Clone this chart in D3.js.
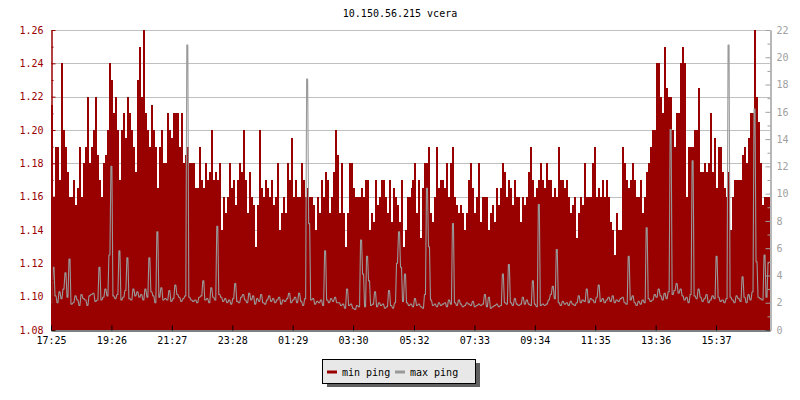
<!DOCTYPE html>
<html><head><meta charset="utf-8">
<script src="https://cdn.jsdelivr.net/npm/d3@7"></script>
<style>body{margin:0;background:#fff}svg{display:block}text{font-family:"DejaVu Sans Mono",monospace;font-size:10px}</style>
</head><body><svg id="c" width="800" height="400"></svg>
<script>
const chartTitle = "10.150.56.215 vcera";
const seriesNames = ["min ping", "max ping"];
const startLabel = "17:25";
const stepMinutes = 4;
const minPing = [
1.215,1.16,1.19,1.19,1.17,1.24,1.20,1.19,1.175,1.16,
1.16,1.17,1.155,1.165,1.19,1.16,1.18,1.19,1.22,1.18,
1.19,1.20,1.22,1.185,1.17,1.16,1.18,1.185,1.20,1.24,
1.23,1.21,1.22,1.20,1.17,1.20,1.21,1.195,1.22,1.21,
1.20,1.19,1.175,1.23,1.25,1.22,1.26,1.21,1.20,1.19,
1.215,1.20,1.19,1.165,1.19,1.20,1.18,1.18,1.21,1.20,
1.195,1.21,1.21,1.21,1.19,1.21,1.18,1.185,1.19,1.18,
1.18,1.18,
1.165,1.165,1.19,1.17,1.165,1.18,1.17,1.175,1.20,1.17,
1.175,1.17,1.18,1.14,1.16,1.15,1.16,1.18,1.165,1.17,
1.155,1.17,1.18,1.175,1.20,1.17,1.15,1.175,1.16,1.155,
1.13,1.155,1.20,1.165,1.16,1.17,1.165,1.16,1.17,1.155,
1.16,1.18,1.14,1.15,1.16,1.15,1.18,1.17,1.195,1.16,
1.17,1.16,1.16,1.18,1.17,1.16,1.165,1.16,1.16,1.155,
1.14,1.16,1.15,1.17,1.16,1.175,1.17,1.15,1.16,1.175,
1.20,1.185,
1.15,1.18,1.15,1.13,1.15,1.18,1.18,1.165,1.16,1.16,
1.16,1.165,1.16,1.17,1.17,1.14,1.15,1.145,1.17,1.155,
1.16,1.17,1.17,1.16,1.15,1.17,1.145,1.165,1.16,1.155,
1.145,1.17,1.13,1.14,1.16,1.16,1.165,1.17,1.18,1.15,
1.17,1.135,1.165,1.18,1.18,1.19,1.15,1.145,1.16,1.19,
1.165,1.17,1.17,1.165,1.18,1.16,1.18,1.19,1.16,1.155,
1.15,1.155,1.15,1.14,1.15,1.17,1.18,1.165,1.15,1.16,
1.18,1.145,
1.16,1.16,1.16,1.14,1.15,1.155,1.145,1.165,1.155,1.165,
1.18,1.175,1.16,1.17,1.165,1.155,1.17,1.16,1.16,1.145,
1.16,1.155,1.16,1.175,1.19,1.17,1.16,1.165,1.17,1.18,
1.17,1.165,1.18,1.17,1.17,1.16,1.165,1.16,1.19,1.17,
1.17,1.165,1.17,1.16,1.15,1.155,1.16,1.135,1.15,1.16,
1.155,1.18,1.16,1.16,1.16,1.18,1.19,1.16,1.165,1.16,
1.17,1.16,1.17,1.16,1.145,1.14,1.125,1.15,1.14,1.14,
1.19,1.18,
1.17,1.165,1.17,1.18,1.17,1.16,1.16,1.17,1.15,1.16,
1.175,1.18,1.19,1.20,1.20,1.24,1.24,1.22,1.21,1.25,
1.225,1.22,1.22,1.20,1.19,1.21,1.21,1.24,1.25,1.24,
1.16,1.19,1.19,1.19,1.20,1.20,1.225,1.175,1.175,1.18,
1.175,1.18,1.21,1.175,1.195,1.165,1.19,1.19,1.175,1.165,
1.16,1.175,1.14,1.16,1.17,1.17,1.17,1.17,1.185,1.19,
1.18,1.195,1.21,1.21,1.26,1.22,1.205,1.18,1.155,1.16,
1.16,1.16
];
const maxPing = [
2.0,4.6,2.5,2.0,2.8,2.3,3.0,4.2,2.4,5.2,
1.9,2.0,2.5,2.2,1.8,2.6,2.3,2.2,1.8,2.5,
2.6,2.7,2.1,2.2,4.6,2.2,2.4,3.0,2.5,5.5,
12.0,2.5,2.3,2.6,5.8,2.2,2.4,2.9,5.3,2.3,
2.2,3.0,2.5,2.8,2.4,2.6,2.2,3.0,2.4,5.3,
2.8,2.5,2.0,7.2,2.4,3.1,2.2,2.3,2.2,2.9,
2.1,2.3,3.3,2.6,2.4,2.1,2.3,2.5,20.9,2.4,
2.2,2.1,
2.2,2.0,2.4,2.5,3.6,2.2,2.3,2.0,3.1,2.4,
2.2,7.6,2.6,2.4,2.1,2.3,2.0,2.2,1.9,2.3,
3.4,2.1,2.0,2.4,2.6,2.2,2.0,2.7,2.2,2.5,
1.9,2.3,2.1,2.6,2.0,1.9,2.2,2.5,2.1,2.3,
2.0,2.2,2.4,1.9,2.2,2.1,2.3,2.7,2.0,2.2,
2.4,2.0,2.7,2.1,1.8,2.3,18.4,7.8,2.2,2.3,
1.9,2.1,2.0,2.2,1.8,5.8,2.2,2.0,2.3,2.1,
2.4,2.0,
2.0,1.8,1.9,1.6,3.0,1.8,1.9,1.6,1.5,1.8,
1.7,6.6,4.1,1.7,5.4,3.6,1.8,1.9,2.8,1.7,
2.0,1.8,1.9,1.6,1.7,2.9,1.8,1.6,2.0,4.9,
7.2,4.6,2.1,4.1,2.0,1.8,1.9,1.7,2.3,1.8,
1.9,1.7,1.6,2.6,10.4,6.1,2.2,1.8,1.9,1.7,
2.0,1.8,1.9,2.0,1.7,2.2,1.9,7.8,2.0,1.8,
2.2,1.9,1.7,1.8,2.0,1.9,1.8,2.1,1.7,1.8,
1.9,1.8,
1.9,2.6,1.7,2.4,1.6,1.7,1.8,1.9,1.7,1.8,
4.1,2.0,1.9,4.8,2.0,1.8,2.3,1.9,1.8,1.9,
2.4,1.9,2.2,1.9,1.8,3.6,1.9,1.7,9.2,1.8,
1.9,1.8,1.9,2.2,2.6,3.2,2.3,5.9,2.0,1.8,
2.1,1.9,2.0,1.8,2.1,1.9,1.8,2.0,2.5,2.0,
2.2,2.1,3.0,2.0,2.3,2.2,2.0,2.4,3.3,2.1,
2.3,2.0,2.2,2.4,2.1,2.5,2.0,2.2,2.1,2.3,
2.4,2.0,
1.9,5.4,2.2,2.5,2.0,1.8,2.1,1.9,2.2,2.0,
7.5,2.3,2.1,2.2,2.6,2.4,3.0,2.5,2.2,2.7,
2.3,2.8,14.7,2.6,2.9,3.4,2.7,3.0,2.5,2.2,
2.4,2.0,2.6,12.4,2.5,2.3,3.0,2.4,2.1,2.3,
2.6,2.0,2.2,2.5,2.3,5.4,2.4,2.1,2.2,2.0,
2.3,20.9,2.4,2.2,2.0,2.5,2.3,2.1,3.9,2.4,
2.0,2.6,2.2,2.8,16.2,5.0,2.4,2.3,2.2,5.5,
2.4,4.9
];
const leftTicks = [1.08,1.10,1.12,1.14,1.16,1.18,1.20,1.22,1.24,1.26];
const leftMinorTicks = [1.09,1.11,1.13,1.15,1.17,1.19,1.21,1.23,1.25];
const rightTicks = [0,2,4,6,8,10,12,14,16,18,20,22];
const rightMinorTicks = [1,3,5,7,9,11,13,15,17,19,21];
const timeLabels = ["17:25","19:26","21:27","23:28","01:29","03:30","05:32","07:33","09:34","11:35","13:36","15:37"];

const svg = d3.select("#c");
const X0 = 51, X1 = 770, Y0 = 330, Y1 = 30;
const RED = "#990000", GRAY = "#999999";

function hm(s){ const [h,m] = s.split(":").map(Number); return h*60+m; }
const startMin = hm(startLabel);
const t0 = new Date(2000,0,1,0,0);
const tAt = mins => new Date(t0.getTime() + mins*60000);
const tStart = tAt(startMin), tEnd = tAt(startMin + 1440);

const x = d3.scaleTime().domain([tStart, tEnd]).range([X0, X1]);
const yL = d3.scaleLinear().domain([leftTicks[0], leftTicks[leftTicks.length-1]]).range([Y0, Y1]);
const yR = d3.scaleLinear().domain([rightTicks[0], rightTicks[rightTicks.length-1]]).range([Y0, Y1]);

const minData = minPing.map((v,i)=>({t:tAt(startMin+i*stepMinutes), v}));
minData.push({t:tEnd, v:minPing[minPing.length-1]});
// each max sample is held for half of its interval, then joined to the next sample
const maxData = [];
maxPing.forEach((v,i)=>{
  maxData.push({t:tAt(startMin+i*stepMinutes), v});
  maxData.push({t:tAt(startMin+i*stepMinutes+stepMinutes/2), v});
});

// title
svg.append("text").attr("x",400).attr("y",17).attr("text-anchor","middle").attr("fill","#000").text(chartTitle);

// gridlines
svg.append("g").selectAll("line").data(leftTicks.slice(1)).join("line")
  .attr("x1",X0).attr("x2",X1)
  .attr("y1",d=>Math.round(yL(d))+0.5).attr("y2",d=>Math.round(yL(d))+0.5)
  .attr("stroke","#c0c0c0").attr("stroke-width",1);

// min ping area
svg.append("path").datum(minData)
  .attr("d", d3.area().curve(d3.curveStepAfter).x(d=>x(d.t)).y0(yL(leftTicks[0])).y1(d=>yL(d.v)))
  .attr("fill",RED).attr("shape-rendering","crispEdges");

// max ping line
svg.append("path").datum(maxData)
  .attr("d", d3.line().x(d=>x(d.t)).y(d=>yR(d.v)))
  .attr("fill","none").attr("stroke",GRAY).attr("stroke-width",1.1).attr("stroke-linejoin","round");

// left axis
const gL = svg.append("g").attr("transform",`translate(${X0+0.5},0)`);
gL.call(d3.axisLeft(yL).tickValues(leftTicks).tickFormat(d3.format(".2f")).tickSize(-4).tickSizeOuter(0).tickPadding(8));
const gLm = svg.append("g").attr("transform",`translate(${X0+0.5},0)`);
gLm.call(d3.axisLeft(yL).tickValues(leftMinorTicks).tickFormat("").tickSize(-2).tickSizeOuter(0));
[gL,gLm].forEach(g=>{ g.selectAll("path,line").attr("stroke",RED); g.selectAll("text").attr("fill",RED); g.attr("font-family",null).attr("font-size",null); });

// right axis
const gR = svg.append("g").attr("transform",`translate(${X1+0.5},0)`);
gR.call(d3.axisRight(yR).tickValues(rightTicks).tickSize(-5).tickSizeOuter(0).tickPadding(6));
const gRm = svg.append("g").attr("transform",`translate(${X1+0.5},0)`);
gRm.call(d3.axisRight(yR).tickValues(rightMinorTicks).tickFormat("").tickSize(-3).tickSizeOuter(0));
[gR,gRm].forEach(g=>{ g.selectAll("path,line").attr("stroke","#a0a0a0"); g.selectAll("text").attr("fill","#a0a0a0"); g.attr("font-family",null).attr("font-size",null); });

// bottom axis
const labelTimes = timeLabels.map(s=>{ let m = hm(s); if (m < startMin) m += 1440; return tAt(m); });
const gB = svg.append("g").attr("transform",`translate(0,${Y0+0.5})`);
gB.call(d3.axisBottom(x).tickValues(labelTimes).tickFormat((d,i)=>timeLabels[i]).tickSize(-5).tickSizeOuter(0).tickPadding(6));
gB.selectAll("path,line").attr("stroke","#000");
gB.selectAll("text").attr("fill","#000");
gB.attr("font-family",null).attr("font-size",null);

// legend
const lg = svg.append("g");
lg.append("rect").attr("x",327).attr("y",363).attr("width",153).attr("height",24).attr("fill","#606060");
lg.append("rect").attr("x",322.5).attr("y",359.5).attr("width",153).attr("height",24).attr("fill","#e8e8e8").attr("stroke","#000");
const items = [{name:seriesNames[0], color:RED, x:327},{name:seriesNames[1], color:GRAY, x:395}];
items.forEach(it=>{
  lg.append("line").attr("x1",it.x).attr("x2",it.x+10).attr("y1",372).attr("y2",372).attr("stroke",it.color).attr("stroke-width",3);
  lg.append("text").attr("x",it.x+15).attr("y",375.5).attr("fill","#000").text(it.name);
});
</script></body></html>
